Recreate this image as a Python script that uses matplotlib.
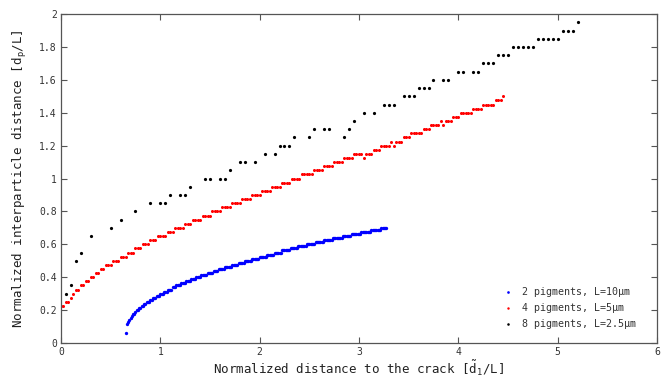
import numpy as np
import matplotlib
matplotlib.use("Agg")
import matplotlib.pyplot as plt

plt.rcParams['font.family'] = ['DejaVu Sans Mono', 'DejaVu Sans']
plt.rcParams['mathtext.fontset'] = 'dejavusans'

# ---- data: 2 pigments, L=10um (x start, x step, y levels as runs) ----
blue_x0 = 0.65
blue_dx = 0.0125
blue_runs = [
    (0.0625, 1), (0.1125, 1), (0.125, 1), (0.1375, 1), (0.15, 1), (0.1625, 1),
    (0.175, 2), (0.1875, 1), (0.2, 2), (0.2125, 2), (0.225, 2), (0.2375, 2),
    (0.25, 3), (0.2625, 2), (0.275, 3), (0.2875, 3), (0.3, 3), (0.3125, 3),
    (0.325, 4), (0.3375, 3), (0.35, 4), (0.3625, 4), (0.375, 4), (0.3875, 4),
    (0.4, 4), (0.4125, 5), (0.425, 5), (0.4375, 4), (0.45, 5), (0.4625, 6),
    (0.475, 5), (0.4875, 5), (0.5, 6), (0.5125, 6), (0.525, 6), (0.5375, 6),
    (0.55, 6), (0.5625, 7), (0.575, 6), (0.5875, 7), (0.6, 7), (0.6125, 7),
    (0.625, 7), (0.6375, 8), (0.65, 7), (0.6625, 8), (0.675, 8), (0.6875, 8),
    (0.70, 5),
]

# ---- data: 4 pigments, L=5um ----
red_x0 = 0.0
red_dx = 0.025
red_runs = [
    (0.225, 2), (0.25, 2), (0.275, 1), (0.30, 1), (0.325, 2), (0.35, 2),
    (0.375, 2), (0.40, 2), (0.425, 2), (0.45, 2), (0.475, 3), (0.50, 3),
    (0.525, 3), (0.55, 3), (0.575, 3), (0.60, 3), (0.625, 3), (0.65, 4),
    (0.675, 3), (0.70, 4), (0.725, 3), (0.75, 4), (0.775, 4), (0.80, 4),
    (0.825, 4), (0.85, 4), (0.875, 4), (0.90, 4), (0.925, 4), (0.95, 4),
    (0.975, 4), (1.00, 4), (1.025, 5), (1.05, 4), (1.075, 4), (1.10, 4),
    (1.125, 4), (1.15, 4), (1.125, 1), (1.15, 3), (1.175, 3), (1.20, 4),
    (1.225, 1), (1.20, 1), (1.225, 3), (1.25, 3), (1.275, 5), (1.30, 3),
    (1.325, 4), (1.35, 1), (1.325, 1), (1.35, 3), (1.375, 3), (1.40, 5),
    (1.425, 4), (1.45, 5), (1.475, 3), (1.50, 1),
]

# ---- data: 8 pigments, L=2.5um ----
black_x = [0.05, 0.10, 0.15, 0.20, 0.30, 0.50, 0.60, 0.75, 0.90, 1.00, 1.05,
           1.10, 1.20, 1.25, 1.30, 1.45, 1.50, 1.60, 1.65, 1.70, 1.80, 1.85,
           1.95, 2.05, 2.15, 2.20, 2.25, 2.30, 2.35, 2.50, 2.55, 2.65, 2.70,
           2.85, 2.90, 2.95, 3.05, 3.15, 3.25, 3.30, 3.35, 3.45, 3.50, 3.55,
           3.60, 3.65, 3.70, 3.75, 3.85, 3.90, 4.00, 4.05, 4.15, 4.20, 4.25,
           4.30, 4.35, 4.40, 4.45, 4.50, 4.55, 4.60, 4.65, 4.70, 4.75, 4.80,
           4.85, 4.90, 4.95, 5.00, 5.05, 5.10, 5.15, 5.20]
black_y = [0.30, 0.35, 0.50, 0.55, 0.65, 0.70, 0.75, 0.80, 0.85, 0.85, 0.85,
           0.90, 0.90, 0.90, 0.95, 1.00, 1.00, 1.00, 1.00, 1.05, 1.10, 1.10,
           1.10, 1.15, 1.15, 1.20, 1.20, 1.20, 1.25, 1.25, 1.30, 1.30, 1.30,
           1.25, 1.30, 1.35, 1.40, 1.40, 1.45, 1.45, 1.45, 1.50, 1.50, 1.50,
           1.55, 1.55, 1.55, 1.60, 1.60, 1.60, 1.65, 1.65, 1.65, 1.65, 1.70,
           1.70, 1.70, 1.75, 1.75, 1.75, 1.80, 1.80, 1.80, 1.80, 1.80, 1.85,
           1.85, 1.85, 1.85, 1.85, 1.90, 1.90, 1.90, 1.95]

labels = ['2 pigments, L=10\u00b5m', '4 pigments, L=5\u00b5m', '8 pigments, L=2.5\u00b5m']
x_ticks = [0, 1, 2, 3, 4, 5, 6]
y_ticks = [0, 0.2, 0.4, 0.6, 0.8, 1.0, 1.2, 1.4, 1.6, 1.8, 2.0]
y_ticklabels = ['0', '0.2', '0.4', '0.6', '0.8', '1', '1.2', '1.4', '1.6', '1.8', '2']


def expand(runs, x0, dx):
    y = np.repeat([r[0] for r in runs], [r[1] for r in runs])
    x = x0 + dx * np.arange(len(y))
    return x, y


bx, by = expand(blue_runs, blue_x0, blue_dx)
rx, ry = expand(red_runs, red_x0, red_dx)

fig = plt.figure(figsize=(6.68, 3.80), dpi=100)
ax = fig.add_axes([0.0913, 0.0974, 0.8922, 0.8656])

ax.plot(bx, by, 'o', color='#0000ff', ms=2.4, mew=0, ls='none', label=labels[0])
ax.plot(rx, ry, 'o', color='#ff0000', ms=2.2, mew=0, ls='none', label=labels[1])
ax.plot(black_x, black_y, 'o', color='black', ms=2.3, mew=0, ls='none', label=labels[2])

ax.set_xlim(0, 6)
ax.set_ylim(0, 2)
ax.set_xticks(x_ticks)
ax.set_xticklabels([str(t) for t in x_ticks])
ax.set_yticks(y_ticks)
ax.set_yticklabels(y_ticklabels)

for s in ax.spines.values():
    s.set_color('#555555')
    s.set_linewidth(0.9)
ax.tick_params(direction='in', top=True, right=True, length=4, width=0.8,
               color='#555555', labelsize=7, labelcolor='#333333', pad=3)

ax.set_xlabel(r'Normalized distance to the crack [$\tilde{\mathtt{d}}_{\mathtt{1}}$/L]',
              fontsize=9, color='#222222', labelpad=1)
ax.set_ylabel(r'Normalized interparticle distance [d$_{\mathtt{p}}$/L]',
              fontsize=9, color='#222222', labelpad=7)

leg = ax.legend(loc='lower right', bbox_to_anchor=(0.98, 0.015), frameon=False,
                fontsize=7.2, handlelength=0.8, handletextpad=1.0, labelspacing=0.6,
                markerscale=0.8)
for t in leg.get_texts():
    t.set_color('#333333')

fig.savefig('out.png', dpi=100)
